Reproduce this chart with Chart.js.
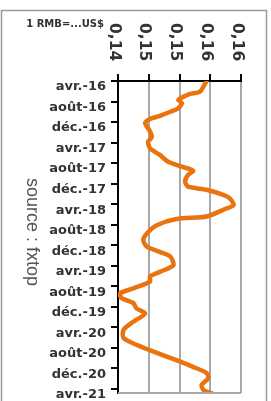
<!DOCTYPE html>
<html>
<head>
<meta charset="utf-8">
<script src="https://cdn.jsdelivr.net/npm/chart.js@4/dist/chart.umd.min.js"></script>
<style>
  html, body { margin: 0; padding: 0; background: #fff; }
  #wrap { width: 271px; height: 401px; }
</style>
</head>
<body>
<div id="wrap"><canvas id="myChart" width="271" height="401"></canvas></div>
<script>
// months since avr.-16
const months = [0, 2.1, 2.5, 3.4, 3.7, 4.3, 5.3, 6.0, 6.8, 7.4, 8.2, 9.6, 10.9, 11.8, 13.1, 14.4, 15.7, 16.7, 17.5, 18.3,
  19.6, 20.6, 21.2, 22.2, 22.9, 24.2, 25.1, 26.4, 26.9, 28.1, 29.7, 31.0, 32.3, 33.3, 34.2, 35.9, 37.2, 38.1, 39.1,
  40.4, 41.4, 42.3, 43.3, 44.3, 45.3, 46.9, 48.5, 50.1, 51.4, 52.7, 54.4, 55.7, 56.9, 57.9, 59.2, 60.2, 61.0]
// 1 RMB in US$
const rates = [0.1544, 0.1533, 0.1517, 0.1501, 0.1498, 0.1504, 0.1498, 0.1485, 0.1468, 0.1452, 0.1444, 0.1451, 0.1455, 0.1449, 0.1452, 0.1468, 0.1481, 0.1504, 0.1522, 0.1514,
  0.1509, 0.1514, 0.1544, 0.1571, 0.1582, 0.1588, 0.1571, 0.1544, 0.1495, 0.1463, 0.1447, 0.1441, 0.1447, 0.1468, 0.1485, 0.1490, 0.1468, 0.1452, 0.1452,
  0.1425, 0.1403, 0.1406, 0.1425, 0.1430, 0.1444, 0.1425, 0.1409, 0.1409, 0.1430, 0.1457, 0.1495, 0.1522, 0.1544, 0.1547, 0.1536, 0.1539, 0.1555]

const dateLabels = ['avr.-16', 'août-16', 'déc.-16', 'avr.-17', 'août-17', 'déc.-17', 'avr.-18', 'août-18',
  'déc.-18', 'avr.-19', 'août-19', 'déc.-19', 'avr.-20', 'août-20', 'déc.-20', 'avr.-21']
const rateTickLabels = ['0,14', '0,15', '0,15', '0,16', '0,16']

const points = months.map((m, i) => ({ x: rates[i], y: m }))
const gridGray = '#a8a8a8'

const decor = {
  id: 'decor',
  beforeDraw(chart) {
    const c = chart.ctx
    c.save()
    c.strokeStyle = '#9a9a9a'
    c.lineWidth = 1.5
    c.strokeRect(1.5, 10.5, 265, 400)
    c.restore()
  },
  afterDraw(chart) {
    const c = chart.ctx
    const a = chart.chartArea
    const xs = chart.scales.x
    c.save()
    // bottom edge of plot
    c.strokeStyle = gridGray
    c.lineWidth = 2
    c.beginPath()
    c.moveTo(a.left, a.bottom)
    c.lineTo(a.right, a.bottom)
    c.stroke()
    // rotated value labels on top
    c.fillStyle = '#333'
    c.font = 'bold 15.5px "DejaVu Sans"'
    c.textAlign = 'left'
    c.textBaseline = 'alphabetic'
    xs.ticks.forEach((t, i) => {
      const px = xs.getPixelForValue(t.value)
      c.save()
      c.translate(px - 8.5, 23)
      c.rotate(Math.PI / 2)
      c.fillText(rateTickLabels[i] || '', 0, 0)
      c.restore()
    })
    // unit
    c.font = 'bold 10px "DejaVu Sans"'
    c.textAlign = 'right'
    c.fillText('1 RMB=...US$', 104, 27)
    // source
    c.fillStyle = '#555'
    c.font = '18px "Liberation Sans"'
    c.textAlign = 'left'
    c.translate(27, 178)
    c.rotate(Math.PI / 2)
    c.fillText('source : fxtop', 0, 0)
    c.restore()
  }
}

const ctx = document.getElementById('myChart').getContext('2d')
const myChart = new Chart(ctx, {
  type: 'scatter',
  data: {
    datasets: [{
      data: points,
      showLine: true,
      borderColor: '#e8730f',
      borderWidth: 4.5,
      pointRadius: 0,
      tension: 0.25,
      borderJoinStyle: 'round',
      borderCapStyle: 'round'
    }]
  },
  plugins: [decor],
  options: {
    responsive: false,
    animation: false,
    layout: { padding: { left: 0, right: 30, top: 0, bottom: 8 } },
    plugins: { legend: { display: false }, tooltip: { enabled: false } },
    scales: {
      x: {
        type: 'linear',
        position: 'top',
        min: 0.14,
        max: 0.16,
        ticks: { display: false, stepSize: 0.005 },
        grid: {
          color: (c) => c.index === 0 ? '#000' : gridGray,
          lineWidth: 2,
          tickColor: '#000',
          tickLength: 7
        },
        border: { color: '#000', width: 2 },
        afterFit: (s) => { s.height = 81 }
      },
      y: {
        type: 'linear',
        reverse: true,
        min: 0,
        max: 60.8,
        afterBuildTicks: (s) => { s.ticks = dateLabels.map((l, i) => ({ value: i * 4 })) },
        ticks: {
          autoSkip: false,
          callback: (v) => dateLabels[Math.round(v / 4)],
          color: '#333',
          font: { family: 'DejaVu Sans', weight: 'bold', size: 13 },
          padding: 5,
          labelOffset: 6
        },
        grid: {
          drawOnChartArea: false,
          tickColor: '#000',
          tickLength: 7,
          lineWidth: 2
        },
        border: { color: '#000', width: 2 },
        afterFit: (s) => {
          s.width = 118
          s.paddingTop = 0
          s.paddingBottom = 0
        }
      }
    }
  }
})
</script>
</body>
</html>
